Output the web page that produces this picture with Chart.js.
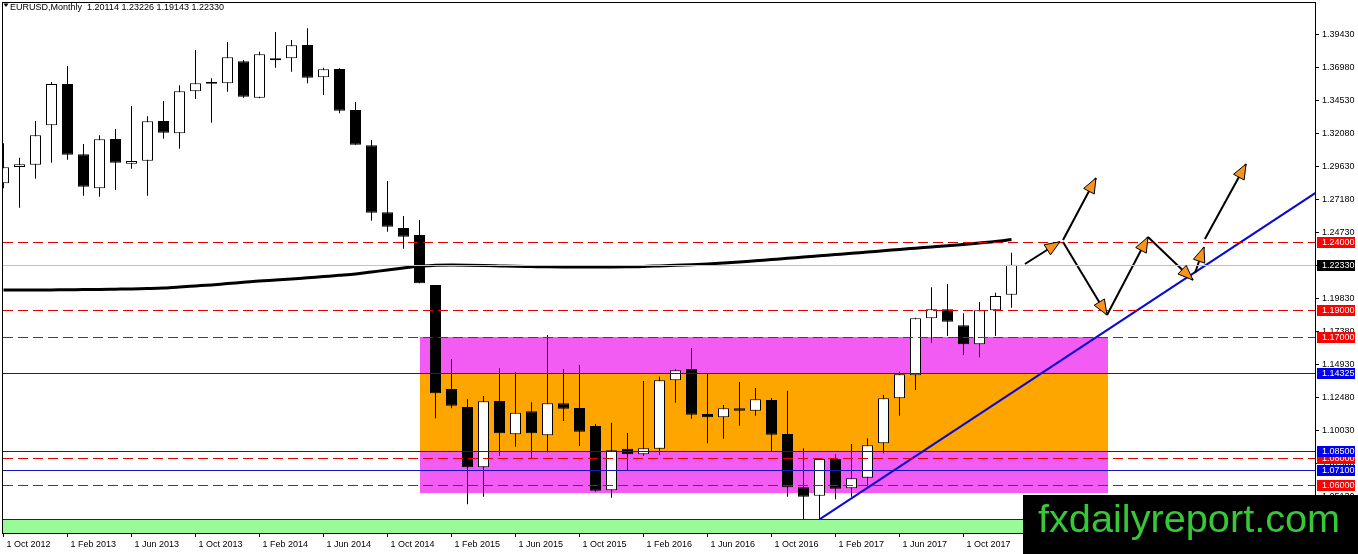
<!DOCTYPE html>
<html>
<head>
<meta charset="utf-8">
<script src="https://cdn.jsdelivr.net/npm/chart.js@4.4.1/dist/chart.umd.min.js"></script>
<style>
  html, body { margin: 0; padding: 0; background: #fff; overflow: hidden; }
</style>
</head>
<body>
<canvas id="chart" width="1358" height="554"></canvas>
<script>
const symbol = 'EURUSD', period = 'Monthly';

// x axis: month index 0 = Oct 2012
const xTickIdx = [0, 4, 8, 12, 16, 20, 24, 28, 32, 36, 40, 44, 48, 52, 56, 60];
const xTickLabels = ['1 Oct 2012', '1 Feb 2013', '1 Jun 2013', '1 Oct 2013', '1 Feb 2014', '1 Jun 2014',
  '1 Oct 2014', '1 Feb 2015', '1 Jun 2015', '1 Oct 2015', '1 Feb 2016', '1 Jun 2016',
  '1 Oct 2016', '1 Feb 2017', '1 Jun 2017', '1 Oct 2017'];
const yTicks = [1.3943, 1.3698, 1.3453, 1.3208, 1.2963, 1.2718, 1.2473, 1.2228, 1.1983,
  1.1738, 1.1493, 1.1248, 1.1003, 1.0758, 1.0513];

// monthly candles
const open = [1.2838, 1.2959, 1.2976, 1.3268, 1.3574, 1.3053, 1.2801, 1.3166, 1.2983, 1.3005,
  1.3300, 1.3209, 1.3520, 1.3589, 1.3580, 1.3743, 1.3473, 1.3750, 1.3765, 1.3864,
  1.3624, 1.3686, 1.3381, 1.3120, 1.2623, 1.2506, 1.2454, 1.2083, 1.1312, 1.1178,
  1.0731, 1.1223, 1.0976, 1.1146, 1.0968, 1.1206, 1.1171, 1.1037, 1.0560, 1.0869,
  1.0827, 1.0869, 1.1376, 1.1460, 1.1126, 1.1102, 1.1169, 1.1151, 1.1230, 1.0978,
  1.0583, 1.0520, 1.0792, 1.0575, 1.0654, 1.0909, 1.1243, 1.1413, 1.1836, 1.1903,
  1.1784, 1.1643, 1.1896, 1.20114];
const high = [1.3134, 1.3028, 1.3300, 1.3589, 1.3708, 1.3129, 1.3194, 1.3241, 1.3411, 1.3335,
  1.3448, 1.3565, 1.3827, 1.3617, 1.3886, 1.3752, 1.3814, 1.3960, 1.3901, 1.3988,
  1.3695, 1.3691, 1.3441, 1.3159, 1.2855, 1.2595, 1.2565, 1.2083, 1.1534, 1.1235,
  1.1260, 1.1465, 1.1436, 1.1213, 1.1712, 1.1460, 1.1490, 1.1052, 1.1062, 1.0985,
  1.1371, 1.1403, 1.1458, 1.1616, 1.1428, 1.1193, 1.1364, 1.1319, 1.1245, 1.1299,
  1.0872, 1.0798, 1.0827, 1.0904, 1.0946, 1.1267, 1.1440, 1.1841, 1.2066, 1.2091,
  1.1873, 1.1957, 1.2026, 1.23226];
const low = [1.2801, 1.2657, 1.2872, 1.2991, 1.3013, 1.2746, 1.2738, 1.2788, 1.2946, 1.2746,
  1.3169, 1.3094, 1.3463, 1.3287, 1.3517, 1.3473, 1.3468, 1.3695, 1.3666, 1.3580,
  1.3493, 1.3357, 1.3124, 1.2560, 1.2479, 1.2353, 1.2096, 1.1094, 1.1169, 1.0456,
  1.0513, 1.0815, 1.0884, 1.0798, 1.0842, 1.1074, 1.0889, 1.0550, 1.0505, 1.0711,
  1.0815, 1.0822, 1.1210, 1.1091, 1.0909, 1.0943, 1.1039, 1.1114, 1.0852, 1.0513,
  1.0345, 1.0345, 1.0494, 1.0513, 1.0587, 1.0835, 1.1114, 1.1304, 1.1655, 1.1705,
  1.1564, 1.1547, 1.1705, 1.19143];
const close = [1.2956, 1.2979, 1.3194, 1.3574, 1.3050, 1.2812, 1.3164, 1.2991, 1.3003, 1.3298,
  1.3213, 1.3520, 1.3580, 1.3577, 1.3772, 1.3480, 1.3795, 1.3765, 1.3861, 1.3621,
  1.3683, 1.3376, 1.3124, 1.2620, 1.2516, 1.2442, 1.2096, 1.1280, 1.1188, 1.0731,
  1.1220, 1.0983, 1.1136, 1.0983, 1.1206, 1.1166, 1.0995, 1.0557, 1.0857, 1.0827,
  1.0872, 1.1376, 1.1450, 1.1121, 1.1102, 1.1169, 1.1151, 1.1235, 1.0973, 1.0583,
  1.0513, 1.0792, 1.0572, 1.0649, 1.0894, 1.1243, 1.1421, 1.1836, 1.1903, 1.1811,
  1.1643, 1.1896, 1.2002, 1.22330];

// long moving average
const ma = [1.2046, 1.2046, 1.2046, 1.2047, 1.2048, 1.2049, 1.2050, 1.2052, 1.2054, 1.2057,
  1.2061, 1.2068, 1.2076, 1.2084, 1.2094, 1.2103, 1.2113, 1.2120, 1.2128, 1.2137,
  1.2146, 1.2155, 1.2165, 1.2180, 1.2194, 1.2210, 1.2224, 1.2229, 1.2231, 1.2230,
  1.2228, 1.2225, 1.2222, 1.2220, 1.2218, 1.2217, 1.2217, 1.2217, 1.2217, 1.2218,
  1.2220, 1.2225, 1.2230, 1.2234, 1.2239, 1.2246, 1.2254, 1.2263, 1.2272, 1.2281,
  1.2291, 1.2300, 1.2309, 1.2318, 1.2328, 1.2337, 1.2347, 1.2356, 1.2365, 1.2374,
  1.2384, 1.2395, 1.2406, 1.2421];

// drawn levels and zones
const redLevels = [1.24, 1.19, 1.17, 1.08, 1.06];
const blueLevels = [1.14325, 1.085, 1.071];
const bidPrice = 1.2233;
const supportLow = 1.0345;
const zoneFrom = 26, zoneTo = 69;
const outerZone = [1.17, 1.054];
const innerZone = [1.14325, 1.085];
const trendX = [51, 82];
const trendY = [1.0345, 1.2766];
const arrowFrom = [[63.84, 1.2239], [66.22, 1.2417], [66.22, 1.2402], [68.97, 1.1861], [71.53, 1.2439], [74.47, 1.2172], [75.09, 1.2424]];
const arrowTo = [[66.03, 1.2404], [68.28, 1.2877], [68.97, 1.1861], [71.53, 1.2439], [74.34, 1.2120], [75.03, 1.2365], [77.66, 1.2981]];

const FONT = '"Liberation Sans", Arial, sans-serif';
const idx = open.map((v, i) => i);

function hline(ctx, a, py, color, dash) {
  const yy = Math.round(py) + 0.5;
  ctx.strokeStyle = color;
  ctx.lineWidth = 1;
  ctx.setLineDash(dash || []);
  ctx.beginPath();
  ctx.moveTo(a.left, yy);
  ctx.lineTo(a.right, yy);
  ctx.stroke();
  ctx.setLineDash([]);
}

function priceTag(ctx, a, py, val, bg) {
  const cy = Math.round(py);
  ctx.fillStyle = bg;
  ctx.fillRect(a.right + 2, cy - 5, 38, 11);
  ctx.fillStyle = '#fff';
  ctx.font = '9px ' + FONT;
  ctx.textAlign = 'left';
  ctx.textBaseline = 'middle';
  ctx.fillText(val.toFixed(5), a.right + 7, cy + 0.5);
}

const overlay = {
  id: 'overlay',
  beforeDatasetsDraw(chart) {
    const {ctx, chartArea: a, scales: {x, y}} = chart;
    ctx.save();
    ctx.beginPath();
    ctx.rect(a.left, a.top, a.right - a.left, a.bottom - a.top);
    ctx.clip();
    // green band under the low
    const gy = Math.round(y.getPixelForValue(supportLow));
    ctx.fillStyle = '#98fb98';
    ctx.fillRect(a.left, gy, a.right - a.left, a.bottom - gy);
    // zones
    const x0 = Math.round(x.getPixelForValue(zoneFrom));
    const x1 = Math.round(x.getPixelForValue(zoneTo));
    let t = Math.round(y.getPixelForValue(outerZone[0]));
    let b = Math.round(y.getPixelForValue(outerZone[1]));
    ctx.fillStyle = '#f35cf3';
    ctx.fillRect(x0, t, x1 - x0, b - t);
    t = Math.round(y.getPixelForValue(innerZone[0]));
    b = Math.round(y.getPixelForValue(innerZone[1]));
    ctx.fillStyle = '#ffa500';
    ctx.fillRect(x0, t, x1 - x0, b - t);
    ctx.restore();
  },
  afterDatasetsDraw(chart) {
    const {ctx, chartArea: a, scales: {x, y}} = chart;
    ctx.save();
    hline(ctx, a, y.getPixelForValue(bidPrice), '#c0c0c0');
    hline(ctx, a, y.getPixelForValue(supportLow), '#1414b4');
    blueLevels.forEach(v => hline(ctx, a, y.getPixelForValue(v), '#1414c0'));
    redLevels.forEach(v => hline(ctx, a, y.getPixelForValue(v), '#e00000', [10, 5]));

    // arrow heads
    arrowFrom.forEach((f, k) => {
      const t = arrowTo[k];
      const sx = x.getPixelForValue(f[0]), sy = y.getPixelForValue(f[1]);
      const ex = x.getPixelForValue(t[0]), ey = y.getPixelForValue(t[1]);
      const ang = Math.atan2(ey - sy, ex - sx);
      const c = Math.cos(ang), s = Math.sin(ang);
      const L = 15, W = 6;
      ctx.beginPath();
      ctx.moveTo(ex, ey);
      ctx.lineTo(ex - L * c + W * s, ey - L * s - W * c);
      ctx.lineTo(ex - L * c - W * s, ey - L * s + W * c);
      ctx.closePath();
      ctx.fillStyle = '#f7941d';
      ctx.fill();
      ctx.strokeStyle = '#000';
      ctx.lineWidth = 1;
      ctx.stroke();
    });
    ctx.restore();
  },
  afterDraw(chart) {
    const {ctx, chartArea: a, scales: {y}, width, height} = chart;
    ctx.save();
    // frame
    ctx.strokeStyle = '#000';
    ctx.lineWidth = 1;
    ctx.strokeRect(a.left - 0.5, a.top - 0.5, a.right - a.left + 1, a.bottom - a.top + 1);

    // price tags on the axis
    redLevels.forEach(v => priceTag(ctx, a, y.getPixelForValue(v), v, '#ff0000'));
    blueLevels.forEach(v => priceTag(ctx, a, y.getPixelForValue(v), v, '#0000f0'));
    priceTag(ctx, a, y.getPixelForValue(bidPrice), bidPrice, '#000');

    // header
    const n = open.length - 1;
    ctx.fillStyle = '#000';
    ctx.beginPath();
    ctx.moveTo(3.5, 3.5); ctx.lineTo(8.5, 3.5); ctx.lineTo(6, 7);
    ctx.closePath(); ctx.fill();
    ctx.font = '9px ' + FONT;
    ctx.textAlign = 'left';
    ctx.textBaseline = 'alphabetic';
    ctx.fillText(symbol + ',' + period + '  ' + [open[n], high[n], low[n], close[n]].map(v => v.toFixed(5)).join(' '), 10, 10);

    // watermark
    ctx.fillStyle = '#000';
    ctx.fillRect(width - 335, height - 59, 335, 59);
    const txt = 'fxdailyreport.com';
    ctx.font = '40px ' + FONT;
    const fs = 40 * 302 / ctx.measureText(txt).width;
    ctx.font = fs.toFixed(1) + 'px ' + FONT;
    ctx.fillStyle = '#36c936';
    ctx.fillText(txt, width - 320, height - 22);
    ctx.restore();
  }
};

const datasets = [
  {
    type: 'line', label: 'MA', order: 6,
    data: idx.map(i => ({x: i, y: ma[i]})),
    borderColor: '#000', borderWidth: 3, pointRadius: 0,
    cubicInterpolationMode: 'monotone'
  },
  {
    type: 'bar', label: 'wick', order: 5, grouped: false,
    data: idx.map(i => ({x: i, y: [low[i], high[i]]})),
    backgroundColor: '#000', borderWidth: 0, barThickness: 1, inflateAmount: 0
  },
  {
    type: 'bar', label: 'body', order: 4, grouped: false,
    data: idx.map(i => ({x: i, y: [open[i], close[i]]})),
    backgroundColor: idx.map(i => close[i] >= open[i] ? '#fff' : '#000'),
    borderColor: '#000', borderWidth: 1, borderSkipped: false,
    barThickness: 11, inflateAmount: 0
  },
  {
    type: 'line', label: 'trend', order: 3,
    data: trendX.map((v, k) => ({x: v, y: trendY[k]})),
    borderColor: '#0a0ad2', borderWidth: 2, pointRadius: 0
  }
];
arrowFrom.forEach((f, k) => {
  datasets.push({
    type: 'line', label: 'arrow' + k, order: 2,
    data: [{x: f[0], y: f[1]}, {x: arrowTo[k][0], y: arrowTo[k][1]}],
    borderColor: '#000', borderWidth: 2, pointRadius: 0
  });
});

new Chart(document.getElementById('chart'), {
  type: 'bar',
  data: { datasets },
  plugins: [overlay],
  options: {
    responsive: false,
    animation: false,
    devicePixelRatio: 1,
    layout: { padding: { top: 3, left: 3, right: 0, bottom: 0 } },
    plugins: { legend: { display: false }, tooltip: { enabled: false } },
    scales: {
      x: {
        type: 'linear',
        offset: false,
        min: -0.03125,
        max: 81.96875,
        border: { display: false },
        grid: { offset: false, drawOnChartArea: false, drawTicks: true, tickLength: 4, color: '#000' },
        ticks: {
          align: 'start', labelOffset: 3, maxRotation: 0, autoSkip: false, padding: 2,
          color: '#000', font: { family: 'Liberation Sans', size: 9 },
          callback: (v, i) => xTickLabels[i]
        },
        afterBuildTicks: s => { s.ticks = xTickIdx.map(v => ({value: v})); },
        afterFit: s => { s.height = 21; s.paddingLeft = 0; s.paddingRight = 0; }
      },
      y: {
        position: 'right',
        min: 1.02434,
        max: 1.41752,
        border: { display: false },
        grid: { drawOnChartArea: false, drawTicks: true, tickLength: 4, color: '#000' },
        ticks: {
          padding: 3, color: '#000', font: { family: 'Liberation Sans', size: 9 },
          callback: v => v.toFixed(5)
        },
        afterBuildTicks: s => { s.ticks = yTicks.map(v => ({value: v})); },
        afterFit: s => { s.width = 43; s.paddingTop = 0; s.paddingBottom = 0; }
      }
    }
  }
});
</script>
</body>
</html>
